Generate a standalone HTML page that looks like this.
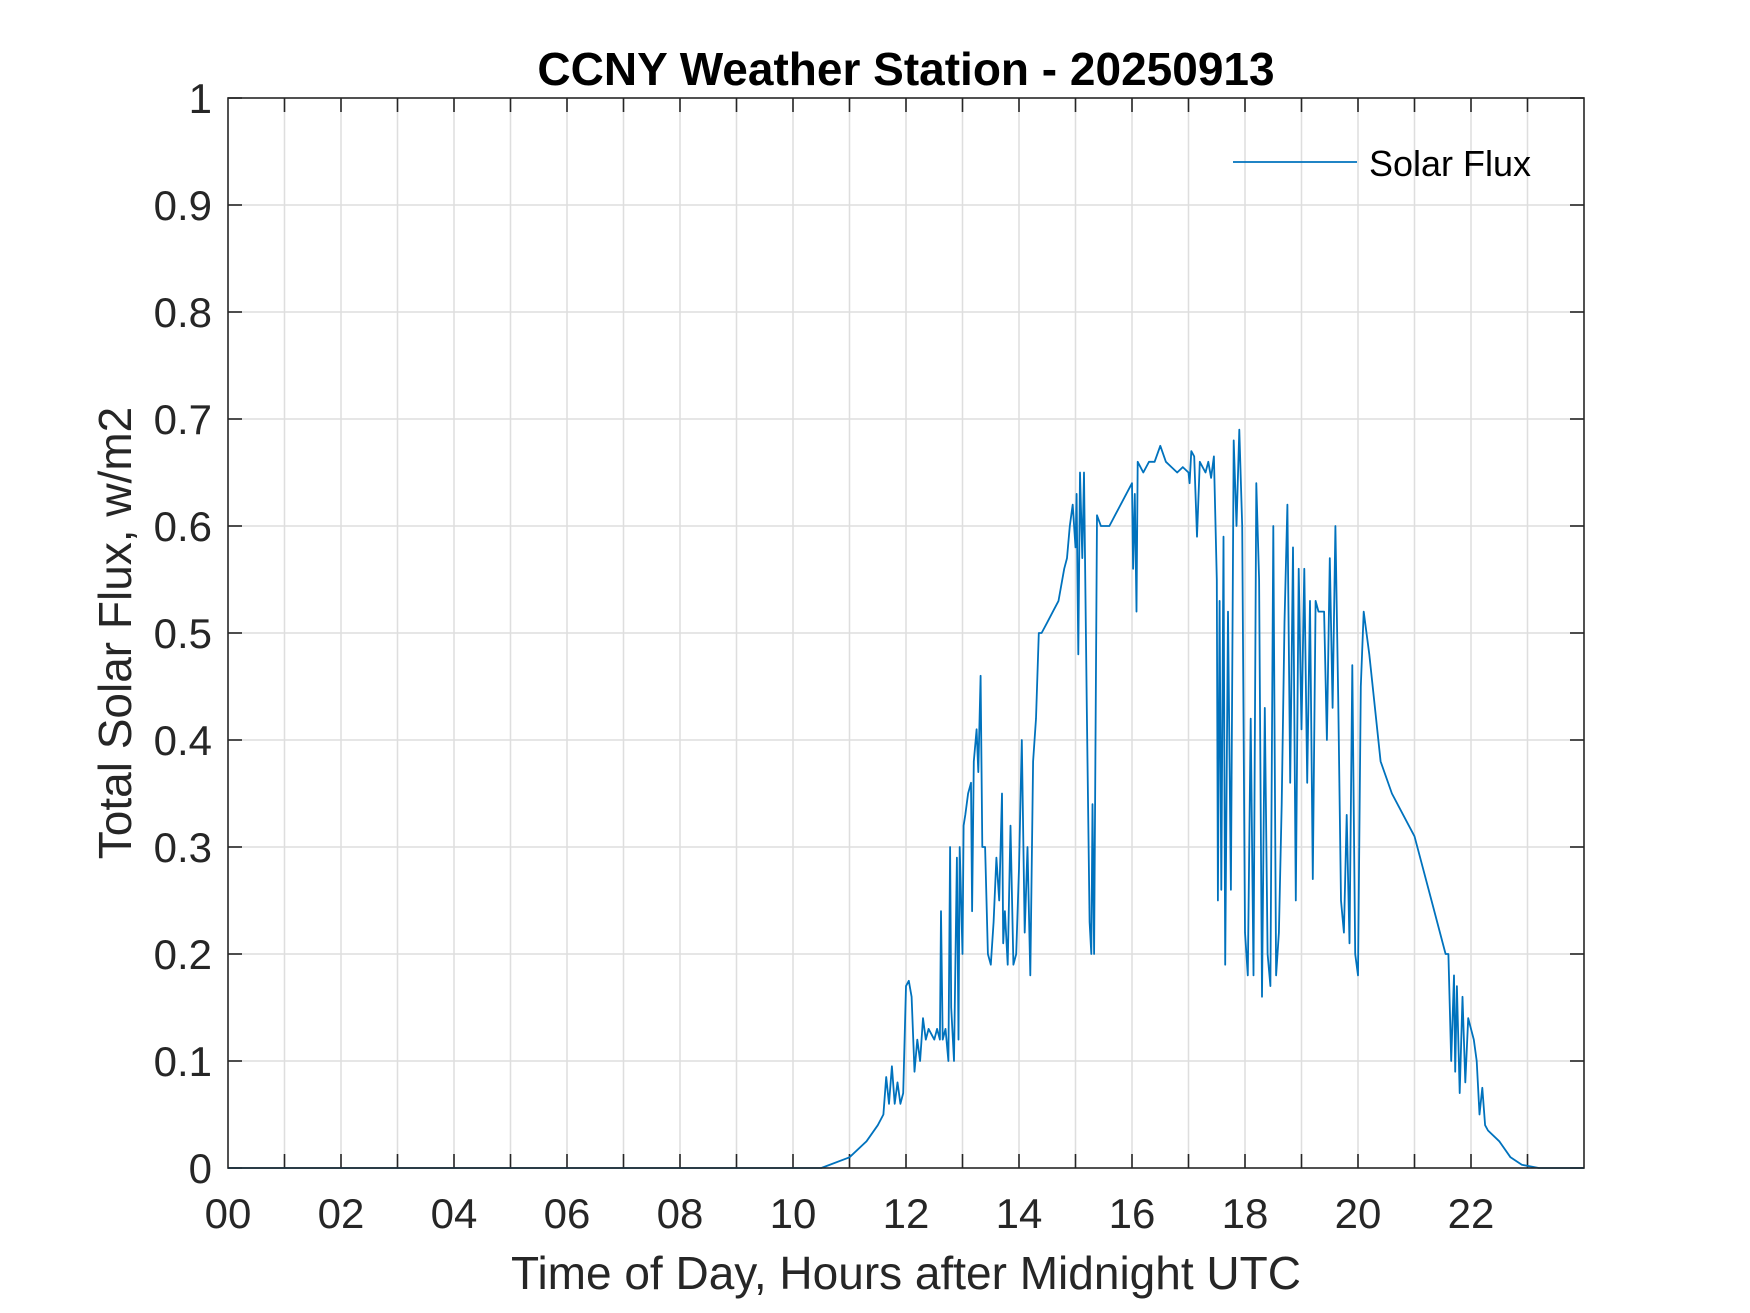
<!DOCTYPE html>
<html><head><meta charset="utf-8"><style>
html,body{margin:0;padding:0;background:#fff;}
svg{display:block;font-family:"Liberation Sans",Arial,sans-serif;}
</style></head><body>
<svg id="chart" width="1750" height="1313" viewBox="0 0 1750 1313" xmlns="http://www.w3.org/2000/svg">
<rect width="1750" height="1313" fill="#fff"/>
<g id="grid"></g>
<g id="ticks"></g>
<g id="labels"></g>
<g id="series"></g>
<rect x="228" y="98" width="1356" height="1070" fill="none" stroke="#262626" stroke-width="1.6"/>
<text x="906" y="85" text-anchor="middle" font-size="46" font-weight="bold" fill="#000">CCNY Weather Station - 20250913</text>
<text x="906" y="1289" text-anchor="middle" font-size="46" fill="#262626">Time of Day, Hours after Midnight UTC</text>
<text transform="translate(131,633) rotate(-90)" text-anchor="middle" font-size="46" fill="#262626">Total Solar Flux, w/m2</text>
<g>
<line x1="1233" y1="162" x2="1357" y2="162" stroke="#0072BD" stroke-width="1.8"/>
<text x="1369" y="176" font-size="36" fill="#000">Solar Flux</text>
</g>
</svg>
<script>
const hours = [0,10.5,10.6,11.0,11.3,11.5,11.6,11.65,11.7,11.75,11.8,11.85,11.9,11.95,12.0,12.05,12.1,12.15,12.2,12.25,12.3,12.35,12.4,12.5,12.55,12.6,12.62,12.65,12.7,12.75,12.78,12.8,12.85,12.9,12.93,12.95,13.0,13.02,13.05,13.1,13.15,13.17,13.2,13.25,13.28,13.32,13.35,13.4,13.45,13.5,13.55,13.6,13.65,13.7,13.72,13.75,13.8,13.85,13.9,13.95,14.0,14.05,14.1,14.15,14.2,14.25,14.3,14.35,14.4,14.5,14.6,14.7,14.8,14.85,14.9,14.95,15.0,15.02,15.05,15.08,15.12,15.15,15.2,15.25,15.28,15.3,15.33,15.38,15.45,15.6,15.7,15.8,15.9,16.0,16.02,16.05,16.08,16.1,16.2,16.3,16.4,16.5,16.6,16.7,16.8,16.9,17.0,17.02,17.05,17.1,17.15,17.2,17.3,17.35,17.4,17.45,17.5,17.52,17.55,17.58,17.62,17.65,17.7,17.75,17.8,17.85,17.9,17.95,18.0,18.05,18.1,18.15,18.2,18.25,18.3,18.35,18.4,18.45,18.5,18.55,18.6,18.65,18.7,18.75,18.8,18.85,18.9,18.95,19.0,19.05,19.1,19.15,19.2,19.25,19.3,19.4,19.45,19.5,19.55,19.6,19.65,19.7,19.75,19.8,19.85,19.9,19.95,20.0,20.05,20.1,20.2,20.4,20.6,21.0,21.3,21.55,21.6,21.65,21.7,21.72,21.75,21.8,21.85,21.9,21.95,22.05,22.1,22.15,22.2,22.25,22.3,22.5,22.7,22.9,23.2,24];
const flux = [0,0,0.002,0.01,0.025,0.04,0.05,0.085,0.06,0.095,0.06,0.08,0.06,0.07,0.17,0.175,0.16,0.09,0.12,0.10,0.14,0.12,0.13,0.12,0.13,0.12,0.24,0.12,0.13,0.10,0.30,0.15,0.10,0.29,0.12,0.30,0.20,0.32,0.33,0.35,0.36,0.24,0.38,0.41,0.37,0.46,0.30,0.30,0.20,0.19,0.23,0.29,0.25,0.35,0.21,0.24,0.19,0.32,0.19,0.20,0.28,0.40,0.22,0.30,0.18,0.38,0.42,0.50,0.50,0.51,0.52,0.53,0.56,0.57,0.60,0.62,0.58,0.63,0.48,0.65,0.57,0.65,0.43,0.23,0.20,0.34,0.20,0.61,0.60,0.60,0.61,0.62,0.63,0.64,0.56,0.63,0.52,0.66,0.65,0.66,0.66,0.675,0.66,0.655,0.65,0.655,0.65,0.64,0.67,0.665,0.59,0.66,0.65,0.66,0.645,0.665,0.55,0.25,0.53,0.26,0.59,0.19,0.52,0.26,0.68,0.60,0.69,0.60,0.22,0.18,0.42,0.18,0.64,0.55,0.16,0.43,0.20,0.17,0.60,0.18,0.22,0.34,0.51,0.62,0.36,0.58,0.25,0.56,0.41,0.56,0.36,0.53,0.27,0.53,0.52,0.52,0.40,0.57,0.43,0.60,0.44,0.25,0.22,0.33,0.21,0.47,0.20,0.18,0.45,0.52,0.48,0.38,0.35,0.31,0.25,0.20,0.20,0.10,0.18,0.09,0.17,0.07,0.16,0.08,0.14,0.12,0.10,0.05,0.075,0.04,0.035,0.025,0.01,0.003,0,0];
const xTicks = [0,2,4,6,8,10,12,14,16,18,20,22];
const xTickLabels = ["00","02","04","06","08","10","12","14","16","18","20","22"];
const yTicks = [0,0.1,0.2,0.3,0.4,0.5,0.6,0.7,0.8,0.9,1];
const yTickLabels = ["0","0.1","0.2","0.3","0.4","0.5","0.6","0.7","0.8","0.9","1"];

const L=228,R=1584,T=98,B=1168;
const xs = h => L + (h/24)*(R-L);
const ys = v => B - v*(B-T);
const NS="http://www.w3.org/2000/svg";
function mk(tag, attrs, parent){const e=document.createElementNS(NS,tag);for(const k in attrs)e.setAttribute(k,attrs[k]);parent.appendChild(e);return e;}
const grid=document.getElementById('grid'), ticks=document.getElementById('ticks'), labels=document.getElementById('labels'), series=document.getElementById('series');
for(let h=1;h<24;h++){
  const g=mk('line',{x1:xs(h),y1:T,x2:xs(h),y2:B,stroke:'#dedede','stroke-width':1.5},grid);
  
  
  for(const [a,b] of [[B,B-14],[T,T+14]]){
    const t=mk('line',{x1:xs(h),y1:a,x2:xs(h),y2:b,stroke:'#262626','stroke-width':1.6},ticks);
    
    
  }
}
xTicks.forEach((h,i)=>{
  const t=mk('text',{x:xs(h),y:1228,'text-anchor':'middle','font-size':42,fill:'#262626'},labels);
  t.textContent=xTickLabels[i];
  
  
});
yTicks.forEach((v,i)=>{
  if(v>0&&v<1){
    const g=mk('line',{x1:L,y1:ys(v),x2:R,y2:ys(v),stroke:'#dedede','stroke-width':1.5},grid);
    
    
  }
  for(const [a,b] of [[L,L+14],[R,R-14]]){
    const t=mk('line',{x1:a,y1:ys(v),x2:b,y2:ys(v),stroke:'#262626','stroke-width':1.6},ticks);
    
    
  }
  const t=mk('text',{x:212,y:ys(v)+15,'text-anchor':'end','font-size':42,fill:'#262626'},labels);
  t.textContent=yTickLabels[i];
  
  
});
const d=hours.map((h,i)=>(i?'L':'M')+xs(h).toFixed(1)+','+ys(flux[i]).toFixed(1)).join(' ');
const p=mk('path',{d:d,fill:'none',stroke:'#0072BD','stroke-width':1.8,'stroke-linejoin':'round'},series);


</script>
</body></html>
